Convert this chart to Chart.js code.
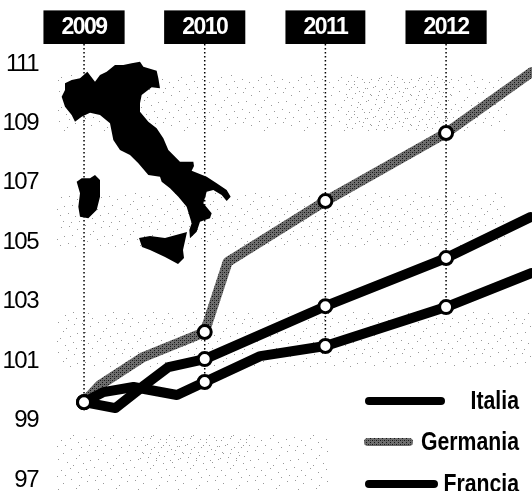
<!DOCTYPE html>
<html><head><meta charset="utf-8">
<style>html,body{margin:0;padding:0;background:#fff}canvas{display:block}</style>
<script src="https://cdn.jsdelivr.net/npm/chart.js@4"></script>
</head><body>
<canvas id="c" width="532" height="491"></canvas>
<script>
const years=[2009,2010,2011,2012];
const yTicks=[97,99,101,103,105,107,109,111];
const italiaX=[2009,2009.26,2009.5,2009.7,2010,2011,2012,2012.7];
const italiaY=[99.55,99.35,100.12,100.73,101.0,102.78,104.4,105.78];
const germaniaX=[2009,2009.13,2009.49,2010,2010.19,2011,2012,2012.71];
const germaniaY=[99.55,100.12,101.07,101.91,104.27,106.32,108.61,110.66];
const franciaX=[2009,2009.16,2009.41,2009.77,2010,2010.46,2011,2012,2012.71];
const franciaY=[99.55,99.89,100.06,99.79,100.23,101.1,101.44,102.75,103.9];
const dropBottoms=[99.55,100.23,101.44,102.75];
const yTop=111.606,yBottom=96.56;
const names=['Italia','Germania','Francia'];

// decorative map outline, in 3x zoom pixels of the picture
const mainland=[[195,250],[215,240],[240,235],[262,215],[285,245],[300,225],[320,215],[345,195],[370,195],[395,190],[420,185],[430,200],[470,212],[475,235],[480,265],[455,262],[425,285],[420,310],[420,335],[445,365],[470,385],[490,415],[505,450],[540,485],[580,485],[582,498],[575,512],[620,530],[650,550],[680,570],[692,590],[680,603],[665,585],[640,570],[620,575],[610,610],[635,640],[630,655],[600,665],[590,695],[570,715],[568,690],[575,670],[560,620],[535,590],[510,565],[485,545],[480,530],[445,525],[415,490],[390,465],[360,450],[340,420],[330,370],[300,345],[270,338],[245,350],[225,365],[215,345],[195,320],[185,290],[195,270]];
const sardinia=[[230,545],[245,535],[270,535],[285,525],[300,540],[300,590],[290,630],[265,655],[240,650],[235,620],[240,580]];
const sicily=[[417,714],[450,708],[495,714],[561,696],[549,750],[552,774],[534,792],[495,771],[450,750],[426,741]];
const speckBands=[[57,75,450,56],[345,75,110,56],[57,193,450,55],[57,312,475,56],[57,434,272,56],[140,434,110,30]];
const speckDots=[[3,2],[11,5],[19,1],[27,7],[35,3],[6,11],[15,14],[24,10],[31,15],[38,12],[2,19],[9,22],[18,20],[26,24],[34,21],[13,27],[29,29],[37,27],[5,28],[21,17]];

function tile(w,h,draw){const t=document.createElement('canvas');t.width=w;t.height=h;draw(t.getContext('2d'));return t;}
const ctx0=document.getElementById('c').getContext('2d');
const grayPattern=ctx0.createPattern(tile(4,4,g=>{g.fillStyle='#6e6e6e';g.fillRect(0,0,4,4);g.fillStyle='#141414';g.fillRect(0,0,1,1);g.fillRect(2,2,1,1);g.fillStyle='#3a3a3a';g.fillRect(2,0,1,1);}),'repeat');
const speckPattern=ctx0.createPattern(tile(40,30,g=>{g.fillStyle='#999';speckDots.forEach(d=>g.fillRect(d[0],d[1],1,1));}),'repeat');
const colors={Italia:'#000',Germania:grayPattern,Francia:'#000'};

const backdropPlugin={id:'backdrop',
 afterLayout(chart){
  const xs=chart.scales.x,ys=chart.scales.y;
  Object.assign(xs,{left:57,right:532,width:475,top:5,bottom:49,height:44});
  Object.assign(ys,{left:0,right:57,width:57,top:44,bottom:491,height:447});
  xs.configure();ys.configure();
  chart.chartArea={left:57,top:44,right:532,bottom:491,width:475,height:447};
 },
 beforeDraw(chart){chart.ctx.letterSpacing='-1.5px';},
 beforeDatasetsDraw(chart){
  const c=chart.ctx;c.save();
  c.fillStyle=speckPattern;
  speckBands.forEach((b,i)=>{c.save();c.translate(i*13,i*7);c.fillRect(b[0]-i*13,b[1]-i*7,b[2],b[3]);c.restore();});
  c.fillStyle='#000';
  [mainland,sardinia,sicily].forEach(poly=>{c.beginPath();poly.forEach((p,i)=>{i?c.lineTo(p[0]/3,p[1]/3):c.moveTo(p[0]/3,p[1]/3);});c.closePath();c.fill();});
  c.restore();
}};
const legendSpec={Italia:[366,444,401],Germania:[365,412,442],Francia:[366,437,484]};
const legendPlugin={id:'sideLegend',afterDraw(chart){
  const c=chart.ctx;c.save();c.letterSpacing='0px';
  names.forEach(n=>{const s=legendSpec[n];
    c.strokeStyle=colors[n];c.lineWidth=8;c.lineCap='round';
    c.beginPath();c.moveTo(s[0]+3,s[2]);c.lineTo(s[1]-3,s[2]);c.stroke();
    c.save();c.translate(519,s[2]+1);c.scale(0.85,1);
    c.fillStyle='#000';c.font='bold 25px "Liberation Sans"';c.textAlign='right';c.textBaseline='middle';
    c.fillText(n,0,0);c.restore();
  });
  c.restore();
}};

function line(xs,ys,color,label){return{label,data:xs.map((x,i)=>({x,y:ys[i]})),borderColor:color,backgroundColor:'#fff',borderWidth:10,borderCapStyle:'round',borderJoinStyle:'round',tension:0,
  pointRadius:ctx=>years.includes(ctx.raw.x)?6.5:0,pointHoverRadius:0,pointBackgroundColor:'#fff',pointBorderColor:'#000',pointBorderWidth:3,clip:false};}
const drops=years.map((yr,i)=>({label:'drop'+yr,data:[{x:yr,y:yTop},{x:yr,y:dropBottoms[i]}],borderColor:'#000',borderWidth:1.5,borderDash:[1.5,2.5],pointRadius:0,tension:0}));

new Chart(ctx0,{type:'line',
  data:{datasets:[line(italiaX,italiaY,'#000',names[0]),line(franciaX,franciaY,'#000',names[2]),line(germaniaX,germaniaY,grayPattern,names[1]),...drops]},
  plugins:[backdropPlugin,legendPlugin],
  options:{responsive:false,animation:false,devicePixelRatio:1,layout:{padding:0},
    plugins:{legend:{display:false},tooltip:{enabled:false}},
    scales:{
      x:{type:'linear',position:'top',min:2008.776,max:2012.712,grid:{display:false},border:{display:false},
        afterBuildTicks(s){s.ticks=years.map(v=>({value:v}));},
        ticks:{color:'#fff',font:{family:'"Liberation Sans"',weight:'bold',size:23},padding:0,maxRotation:0,autoSkip:false,
          callback:v=>String(v),showLabelBackdrop:true,backdropColor:'#000',backdropPadding:{x:15,y:3}}},
      y:{type:'linear',min:yBottom,max:yTop,grid:{display:false},border:{display:false},
        afterBuildTicks(s){s.ticks=yTicks.map(v=>({value:v}));},
        ticks:{color:'#000',font:{family:'"Liberation Sans"',size:24},padding:11,labelOffset:2,autoSkip:false,callback:v=>String(v)}}
    }}});
</script>
</body></html>
